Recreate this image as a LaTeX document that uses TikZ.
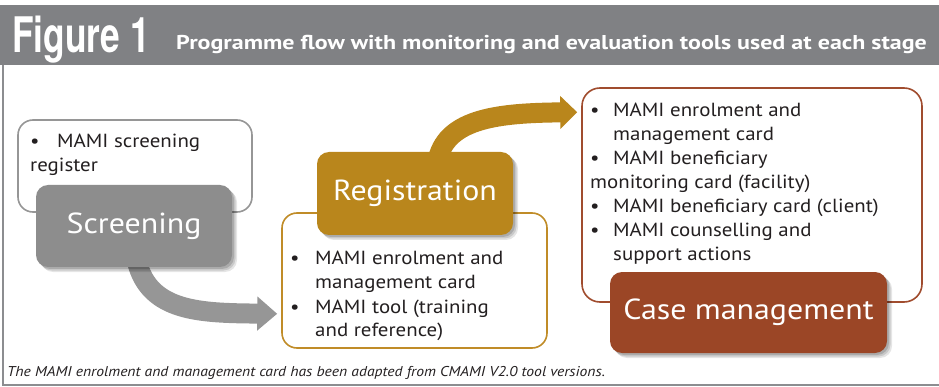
\documentclass[tikz,border=0pt]{standalone}
\usepackage{fontspec}
\setmainfont{PT Sans}[FakeStretch=1.1]
\newfontfamily\titlefont{PT Sans}[FakeStretch=1.2]
\newfontfamily\figfont{TeX Gyre Heros}
\usetikzlibrary{arrows.meta,calc}
\definecolor{hdr}{RGB}{128,129,132}
\definecolor{frm}{RGB}{140,141,144}
\definecolor{txt}{RGB}{35,31,32}
\definecolor{scrfill}{RGB}{141,141,141}
\definecolor{scrline}{RGB}{150,150,150}
\definecolor{scrarrow}{RGB}{150,150,150}
\definecolor{gold}{RGB}{185,134,28}
\definecolor{goldline}{RGB}{192,140,40}
\definecolor{rust}{RGB}{155,70,38}
\definecolor{rustline}{RGB}{160,76,46}
\begin{document}
\begin{tikzpicture}[x=1pt,y=-1pt,
  notesbox/.style={draw, line width=1.6pt, fill=white, rounded corners=15pt, inner sep=0pt},
  stagebox/.style={rounded corners=12pt, inner sep=0pt, text=white,
    font=\fontsize{29}{29}\selectfont,
    preaction={fill=black, fill opacity=0.10, transform canvas={xshift=5pt,yshift=-5pt}},
    preaction={fill=black, fill opacity=0.12, transform canvas={xshift=3.5pt,yshift=-3.5pt}},
    preaction={fill=black, fill opacity=0.15, transform canvas={xshift=2pt,yshift=-2pt}}},
  notetext/.style={anchor=base west, inner sep=0pt, text=txt, font=\fontsize{19}{24}\selectfont},
  flow/.style={line width=20pt}
]
\useasboundingbox (0,0) rectangle (939,387);
% header
\fill[hdr] (0,5) rectangle (939,65);
\node[anchor=base west, inner sep=0pt, text=white, font=\figfont\bfseries\fontsize{49}{49}\selectfont] (fig) at (12,53) {\scalebox{0.72}[1]{Figure 1}};
\node[anchor=base west, inner sep=0pt, text=white, font=\titlefont\bfseries\fontsize{20}{20}\selectfont] (title) at (176,50) {Programme flow with monitoring and evaluation tools used at each stage};
% frame
\draw[frm, line width=2pt] (3,65) -- (3,385) -- (939,385);
% notes boxes
\node[notesbox, draw=scrline, minimum width=234pt, minimum height=92pt] (scrnotes) at (135,166) {};
\node[notesbox, draw=goldline, minimum width=265pt, minimum height=135pt] (regnotes) at (414.5,280.5) {};
\node[notesbox, draw=rustline, minimum width=340pt, minimum height=214pt, rounded corners=18pt] (casenotes) at (752,195) {};
% note texts
\node[notetext] (scrtext) at (30,148) {\begin{tabular}[t]{@{}p{27pt}@{}l@{}}
\textbullet & MAMI screening\\
\multicolumn{2}{@{}l@{}}{register}
\end{tabular}};
\node[notetext] (regtext) at (290,265) {\begin{tabular}[t]{@{}p{25pt}@{}l@{}}
\textbullet & MAMI enrolment and\\
 & management card\\
\textbullet & MAMI tool (training\\
 & and reference)
\end{tabular}};
\node[notetext] (casetext) at (590,117) {\begin{tabular}[t]{@{}p{23pt}@{}l@{}}
\textbullet & MAMI enrolment and\\
 & management card\\
\textbullet & MAMI beneficiary\\
\multicolumn{2}{@{}l@{}}{monitoring card (facility)}\\
\textbullet & MAMI beneficiary card (client)\\
\textbullet & MAMI counselling and\\
 & support actions
\end{tabular}};
% stage box centres
\path (134,226) coordinate (scrc) (415,193.5) coordinate (regc) (748.5,312.5) coordinate (casec);
% arrows
\draw[flow, scrarrow, -{Triangle[length=20pt,width=33pt]}]
  ($(scrc)+(3,36)$) .. controls (150,312) and (200,313) .. ($(regnotes.south west)+(-4,-35)$);
\draw[flow, gold, -{Triangle[length=17pt,width=32pt]}]
  ($(regc)+(23,-35)$) .. controls (448,118) and (500,113) .. ($(casenotes.north west)+(-4,25)$);
% stage boxes
\node[stagebox, fill=scrfill, minimum width=196pt, minimum height=82pt] (scr) at (scrc) {Screening};
\node[stagebox, fill=gold, minimum width=196pt, minimum height=83pt] (reg) at (regc) {Registration};
\node[stagebox, fill=rust, minimum width=277pt, minimum height=81pt] (case) at (casec) {Case management};
% footer
\node[anchor=base west, inner sep=0pt, text=txt, font=\itshape\fontsize{14.2}{14.2}\selectfont] (foot) at (7,376) {The MAMI enrolment and management card has been adapted from CMAMI V2.0 tool versions.};
\end{tikzpicture}
\end{document}
